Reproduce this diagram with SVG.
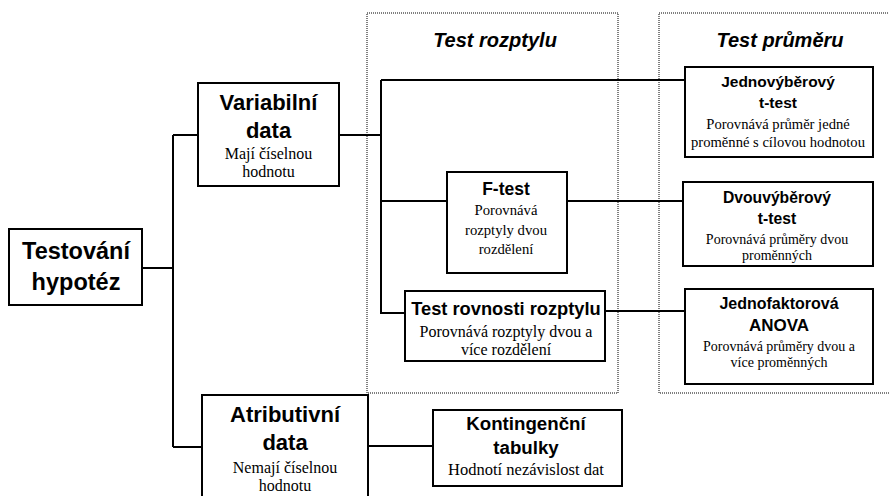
<svg xmlns="http://www.w3.org/2000/svg" width="889" height="496" viewBox="0 0 889 496">
<style>
.box{fill:#fff;stroke:#000;stroke-width:2}
.grp{fill:none;stroke:#000;stroke-width:1;stroke-dasharray:1 1}
.con{fill:none;stroke:#000;stroke-width:2}
.h{font-family:'Liberation Sans',Arial,sans-serif;font-weight:bold;text-anchor:middle;fill:#000}
.s{font-family:'Liberation Serif','Times New Roman',serif;font-weight:normal;text-anchor:middle;fill:#000}
.t{font-family:'Liberation Sans',Arial,sans-serif;font-weight:bold;font-style:italic;text-anchor:middle;font-size:20px}
</style>
<rect width="889" height="496" fill="#fff"/>
<g id="group-rozptyl">
<rect class="grp" x="367" y="13" width="251" height="380"/>
<text class="t" x="495" y="47">Test rozptylu</text>
</g>
<g id="group-prumer">
<rect class="grp" x="659" y="13" width="236" height="380"/>
<text class="t" x="780" y="47">Test průměru</text>
</g>
<g id="connectors">
<path class="con" d="M142,268 H173 M173,135 V447 M173,135 H198 M173,447 H202"/>
<path class="con" d="M339,135 H381 M381,80 V313 H405 M381,80 H685 M381,201 H447 M567,201 H683 M605,311 H685"/>
<path class="con" d="M368,446 H433"/>
</g>
<g id="testovani">
<rect class="box" x="9" y="229" width="133" height="76"/>
<text class="h" x="76" y="259" font-size="23.5">Testování</text>
<text class="h" x="76" y="290" font-size="23.5">hypotéz</text>
</g>
<g id="variabilni">
<rect class="box" x="198" y="83" width="141" height="103"/>
<text class="h" x="268.5" y="110" font-size="22">Variabilní</text>
<text class="h" x="268.5" y="138" font-size="22">data</text>
<text class="s" x="268.5" y="159" font-size="16">Mají číselnou</text>
<text class="s" x="268.5" y="177" font-size="16">hodnotu</text>
</g>
<g id="atributivni">
<rect class="box" x="202" y="395" width="166" height="104"/>
<text class="h" x="285" y="422" font-size="22">Atributivní</text>
<text class="h" x="285" y="450" font-size="22">data</text>
<text class="s" x="285" y="473" font-size="16">Nemají číselnou</text>
<text class="s" x="285" y="491" font-size="16">hodnotu</text>
</g>
<g id="ftest">
<rect class="box" x="447" y="172" width="120" height="101"/>
<text class="h" x="506" y="195" font-size="17.5">F-test</text>
<text class="s" x="506" y="215" font-size="14.7">Porovnává</text>
<text class="s" x="506" y="235" font-size="14.7">rozptyly dvou</text>
<text class="s" x="506" y="254" font-size="14.7">rozdělení</text>
</g>
<g id="rovnost">
<rect class="box" x="405" y="291" width="200" height="70"/>
<text class="h" x="506" y="315" font-size="18.3">Test rovnosti rozptylu</text>
<text class="s" x="506" y="337" font-size="16">Porovnává rozptyly dvou a</text>
<text class="s" x="506" y="355" font-size="16">více rozdělení</text>
</g>
<g id="jednovyberovy">
<rect class="box" x="685" y="67" width="188" height="90"/>
<text class="h" x="778" y="87" font-size="15.5">Jednovýběrový</text>
<text class="h" x="778" y="108" font-size="15.5">t-test</text>
<text class="s" x="778" y="129" font-size="14.6">Porovnává průměr jedné</text>
<text class="s" x="778" y="147" font-size="14.6">proměnné s cílovou hodnotou</text>
</g>
<g id="dvouvyberovy">
<rect class="box" x="683" y="182" width="190" height="84"/>
<text class="h" x="777" y="203" font-size="15.7">Dvouvýběrový</text>
<text class="h" x="777" y="224" font-size="15.7">t-test</text>
<text class="s" x="777" y="244" font-size="14">Porovnává průměry dvou</text>
<text class="s" x="777" y="260" font-size="14">proměnných</text>
</g>
<g id="anova">
<rect class="box" x="685" y="289" width="188" height="95"/>
<text class="h" x="779" y="309" font-size="16">Jednofaktorová</text>
<text class="h" x="779" y="331" font-size="17">ANOVA</text>
<text class="s" x="779" y="351" font-size="14">Porovnává průměry dvou a</text>
<text class="s" x="779" y="367" font-size="14">více proměnných</text>
</g>
<g id="kontingencni">
<rect class="box" x="433" y="410" width="189" height="76"/>
<text class="h" x="526" y="430" font-size="18.7">Kontingenční</text>
<text class="h" x="526" y="454" font-size="18.7">tabulky</text>
<text class="s" x="526" y="475" font-size="16.5">Hodnotí nezávislost dat</text>
</g>
</svg>
